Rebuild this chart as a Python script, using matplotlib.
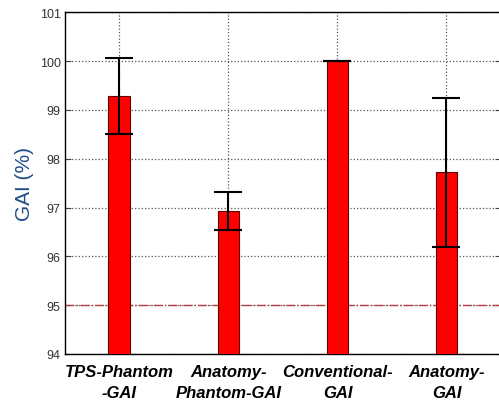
import numpy as np
import matplotlib.pyplot as plt

categories = ["TPS-Phantom\n-GAI", "Anatomy-\nPhantom-GAI", "Conventional-\nGAI", "Anatomy-\nGAI"]
means = [99.28, 96.93, 100.0, 97.72]
errors = [0.78, 0.39, 0.0, 1.52]
threshold = 95

fig = plt.figure(figsize=(4.99, 4.06), dpi=100)
ax = fig.add_axes([0.130, 0.126, 0.874, 0.841])

x = np.arange(1, len(categories) + 1)
ax.bar(x, means, width=0.2, color='#ff0000', edgecolor='#600000', linewidth=0.8, zorder=3)
ax.errorbar(x, means, yerr=errors, fmt='none', ecolor='black', elinewidth=1.5,
            capsize=10, capthick=1.5, zorder=4)
ax.axhline(threshold, color='#b84040', linestyle='-.', linewidth=1.0, zorder=2)

ax.set_xlim(0.5, 4.5)
ax.set_ylim(94, 101)
ax.set_yticks(range(94, 102))
ax.set_xticks(x)
ax.set_xticklabels(categories, fontsize=12, fontweight='bold', fontstyle='italic',
                   family='Liberation Sans', linespacing=1.55)
ax.tick_params(axis='y', labelsize=9, colors='#444444', labelcolor='#333333')
ax.tick_params(direction='in', top=True, right=True, length=4, pad=3)
ax.tick_params(axis='x', length=0, pad=7)
for lbl in ax.get_yticklabels():
    lbl.set_family('Liberation Sans')
ax.grid(True, linestyle=':', color='#555555', linewidth=0.9, zorder=0)
ax.set_ylabel('GAI (%)', fontsize=15, color='#1f4e8a', family='Liberation Sans', labelpad=4)
for s in ax.spines.values():
    s.set_linewidth(1.0)

fig.savefig('out.png', dpi=100)
